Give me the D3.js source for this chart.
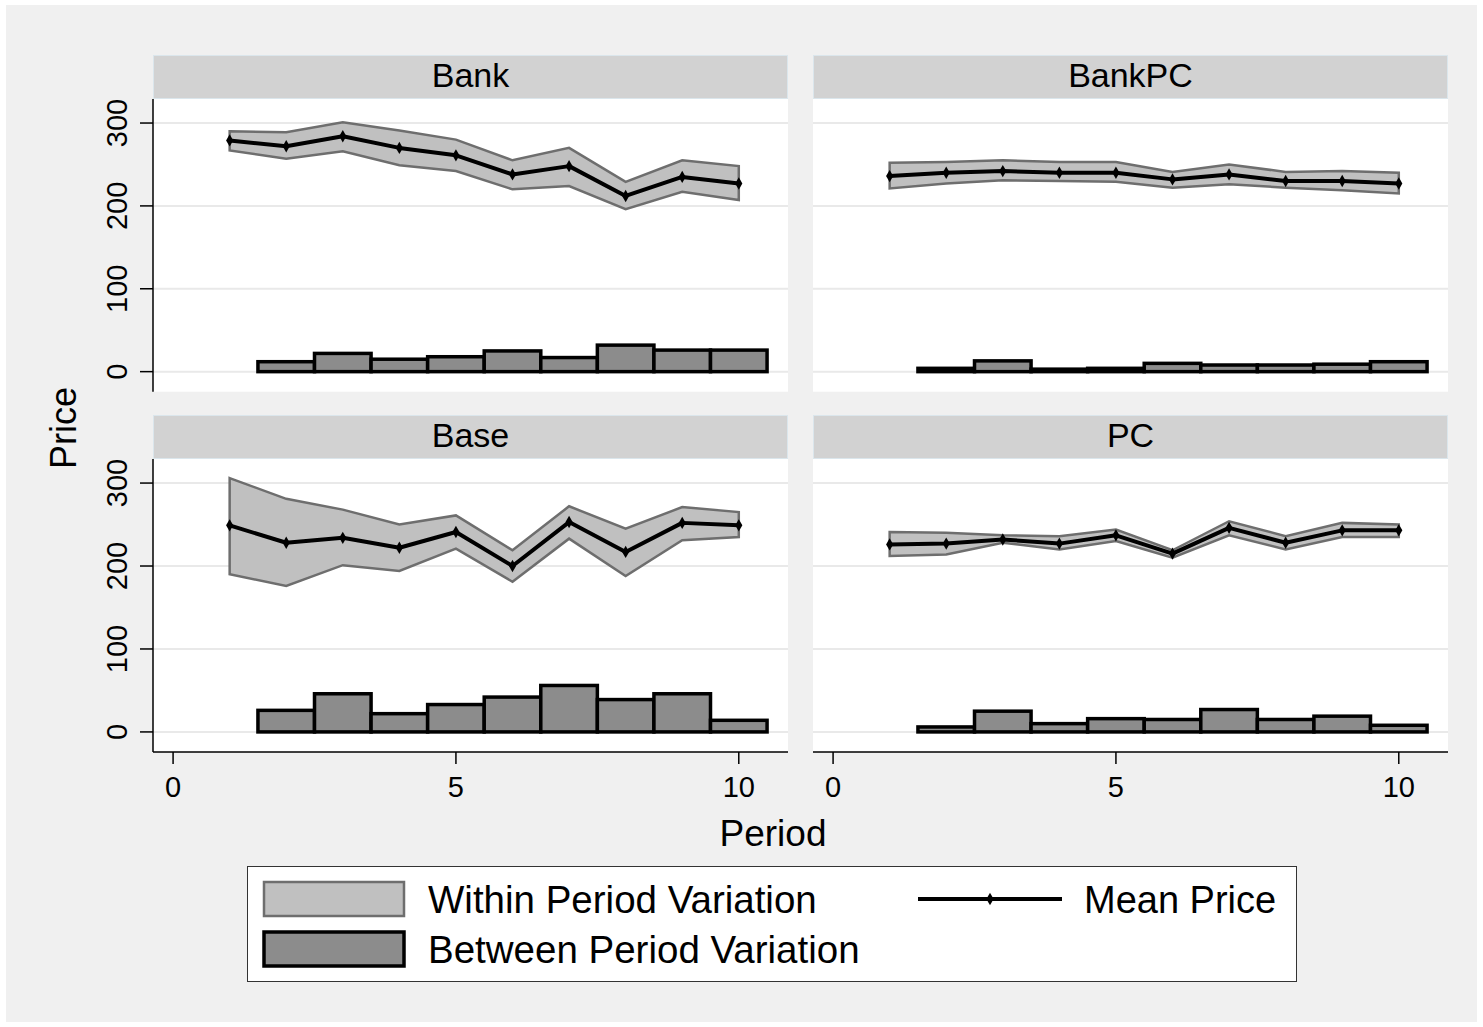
<!DOCTYPE html>
<html>
<head>
<meta charset="utf-8">
<script src="https://cdn.jsdelivr.net/npm/d3@7"></script>
<style>
  html, body { margin: 0; padding: 0; background: #ffffff; }
  svg text { font-family: "Liberation Sans", Arial, Helvetica, sans-serif; fill: #000; }
</style>
</head>
<body>
<svg id="chart" width="1483" height="1027"></svg>
<script>
// Periods and treatment groups
const periods = [1, 2, 3, 4, 5, 6, 7, 8, 9, 10];
const barPeriods = [2, 3, 4, 5, 6, 7, 8, 9, 10];
const groups = ["Bank", "BankPC", "Base", "PC"];

// Mean price per period
const meanBank   = [279, 272, 284, 270, 261, 238, 248, 212, 235, 227];
const meanBankPC = [236, 240, 242, 240, 240, 232, 238, 230, 230, 227];
const meanBase   = [249, 228, 234, 222, 241, 200, 253, 217, 252, 249];
const meanPC     = [226, 227, 232, 227, 237, 215, 246, 228, 243, 243];

// Within-period variation band (upper / lower)
const upperBank   = [290, 289, 301, 291, 280, 255, 270, 229, 255, 248];
const lowerBank   = [267, 257, 266, 249, 242, 220, 224, 196, 217, 207];
const upperBankPC = [252, 253, 255, 253, 253, 241, 250, 241, 242, 240];
const lowerBankPC = [221, 227, 231, 230, 229, 222, 226, 222, 219, 215];
const upperBase   = [306, 281, 268, 250, 261, 219, 272, 245, 271, 265];
const lowerBase   = [190, 176, 201, 194, 221, 181, 233, 188, 231, 235];
const upperPC     = [241, 240, 237, 236, 244, 219, 254, 236, 252, 250];
const lowerPC     = [212, 214, 228, 220, 230, 210, 237, 220, 235, 235];

// Between-period variation (periods 2..10)
const betweenBank   = [12, 22, 15, 18, 25, 17, 32, 26, 26];
const betweenBankPC = [4, 13, 3, 4, 10, 8, 8, 9, 12];
const betweenBase   = [26, 46, 22, 33, 42, 56, 39, 46, 14];
const betweenPC     = [6, 25, 10, 16, 15, 27, 15, 19, 8];

// Axis ticks
const yTicks = [0, 100, 200, 300];
const xTicks = [0, 5, 10];

const panelData = [
  { name: groups[0], mean: meanBank,   upper: upperBank,   lower: lowerBank,   between: betweenBank },
  { name: groups[1], mean: meanBankPC, upper: upperBankPC, lower: lowerBankPC, between: betweenBankPC },
  { name: groups[2], mean: meanBase,   upper: upperBase,   lower: lowerBase,   between: betweenBase },
  { name: groups[3], mean: meanPC,     upper: upperPC,     lower: lowerPC,     between: betweenPC }
];

const svg = d3.select("#chart");

// Outer frame
svg.append("rect").attr("x", 0).attr("y", 0).attr("width", 1483).attr("height", 1027).attr("fill", "#ffffff");
svg.append("rect").attr("x", 6).attr("y", 5).attr("width", 1471).attr("height", 1017).attr("fill", "#f0f0f0");

// Panel geometry
const colX = [153, 813];
const panelW = 635;
const rows = [
  { stripTop: 55,  plotTop: 99,  plotBottom: 391.7 },
  { stripTop: 415, plotTop: 459, plotBottom: 752 }
];

const COL_BAND = "#c0c0c0", COL_BAND_LINE = "#6e6e6e", COL_BAR = "#8c8c8c";
const diamond = d3.symbol().type(d3.symbolDiamond).size(44);

panelData.forEach((p, i) => {
  const col = i % 2, row = Math.floor(i / 2);
  const x0 = colX[col], r = rows[row];
  const g = svg.append("g");

  const x = d3.scaleLinear().domain([-0.355, 10.87]).range([x0, x0 + panelW]);
  const y = d3.scaleLinear().domain([-24.2, 329]).range([r.plotBottom, r.plotTop]);

  // Strip with group name
  g.append("rect")
    .attr("x", x0 + 0.5).attr("y", r.stripTop + 0.5)
    .attr("width", panelW - 1).attr("height", r.plotTop - r.stripTop - 1)
    .attr("fill", "#d2d2d2").attr("stroke", "#dbe6ec").attr("stroke-width", 1);
  g.append("text")
    .attr("x", x0 + panelW / 2).attr("y", (r.stripTop + r.plotTop) / 2 - 2)
    .attr("dy", "0.36em").attr("text-anchor", "middle")
    .style("font-size", "34px").text(p.name);

  // Plot region
  g.append("rect")
    .attr("x", x0).attr("y", r.plotTop)
    .attr("width", panelW).attr("height", r.plotBottom - r.plotTop)
    .attr("fill", "#ffffff");

  // Horizontal gridlines
  g.selectAll(".grid").data(yTicks).enter().append("line")
    .attr("x1", x0).attr("x2", x0 + panelW)
    .attr("y1", d => y(d)).attr("y2", d => y(d))
    .attr("stroke", "#e9e9e9").attr("stroke-width", 2);

  // Within-period band
  const area = d3.area()
    .x((d, k) => x(periods[k]))
    .y0((d, k) => y(p.lower[k]))
    .y1((d, k) => y(p.upper[k]));
  g.append("path").datum(p.mean)
    .attr("d", area)
    .attr("fill", COL_BAND).attr("stroke", COL_BAND_LINE)
    .attr("stroke-width", 2.5).attr("stroke-linejoin", "miter");

  // Between-period bars
  g.selectAll(".bar").data(p.between).enter().append("rect")
    .attr("x", (d, k) => x(barPeriods[k] - 0.5))
    .attr("width", (d, k) => x(barPeriods[k] + 0.5) - x(barPeriods[k] - 0.5))
    .attr("y", d => y(d))
    .attr("height", d => y(0) - y(d))
    .attr("fill", COL_BAR).attr("stroke", "#000").attr("stroke-width", 3.5);

  // Mean price line with markers
  const line = d3.line().x((d, k) => x(periods[k])).y(d => y(d));
  g.append("path").datum(p.mean)
    .attr("d", line).attr("fill", "none")
    .attr("stroke", "#000").attr("stroke-width", 4).attr("stroke-linejoin", "round");
  g.selectAll(".pt").data(p.mean).enter().append("path")
    .attr("d", diamond)
    .attr("transform", (d, k) => `translate(${x(periods[k])},${y(d)})`)
    .attr("fill", "#000");

  // Y axis on the left column
  if (col === 0) {
    g.append("line").attr("x1", x0).attr("x2", x0)
      .attr("y1", r.plotTop).attr("y2", r.plotBottom)
      .attr("stroke", "#000").attr("stroke-width", 1.5);
    g.selectAll(".ytick").data(yTicks).enter().append("line")
      .attr("x1", x0 - 13).attr("x2", x0)
      .attr("y1", d => y(d)).attr("y2", d => y(d))
      .attr("stroke", "#000").attr("stroke-width", 1.5);
    g.selectAll(".ylab").data(yTicks).enter().append("text")
      .attr("transform", d => `translate(127,${y(d)}) rotate(-90)`)
      .attr("text-anchor", "middle")
      .style("font-size", "29px").text(d => d);
  }

  // X axis on the bottom row
  if (row === 1) {
    g.append("line").attr("x1", x0).attr("x2", x0 + panelW)
      .attr("y1", r.plotBottom).attr("y2", r.plotBottom)
      .attr("stroke", "#000").attr("stroke-width", 1.5);
    g.selectAll(".xtick").data(xTicks).enter().append("line")
      .attr("x1", d => x(d)).attr("x2", d => x(d))
      .attr("y1", r.plotBottom).attr("y2", r.plotBottom + 12)
      .attr("stroke", "#000").attr("stroke-width", 1.5);
    g.selectAll(".xlab").data(xTicks).enter().append("text")
      .attr("x", d => x(d)).attr("y", 797)
      .attr("text-anchor", "middle")
      .style("font-size", "29px").text(d => d);
  }
});

// Axis titles
svg.append("text")
  .attr("transform", "translate(76,428) rotate(-90)")
  .attr("text-anchor", "middle").style("font-size", "36px").text("Price");
svg.append("text")
  .attr("x", 773).attr("y", 846)
  .attr("text-anchor", "middle").style("font-size", "37px").text("Period");

// Legend
const lg = svg.append("g");
lg.append("rect").attr("x", 247.5).attr("y", 866.5).attr("width", 1049).attr("height", 115)
  .attr("fill", "#ffffff").attr("stroke", "#333").attr("stroke-width", 1);
lg.append("rect").attr("x", 264).attr("y", 882).attr("width", 140).attr("height", 34)
  .attr("fill", COL_BAND).attr("stroke", COL_BAND_LINE).attr("stroke-width", 2.5);
lg.append("rect").attr("x", 264).attr("y", 932).attr("width", 140).attr("height", 34)
  .attr("fill", COL_BAR).attr("stroke", "#000").attr("stroke-width", 3.5);
lg.append("text").attr("x", 428).attr("y", 913).style("font-size", "38.5px").text("Within Period Variation");
lg.append("text").attr("x", 428).attr("y", 963).style("font-size", "38.5px").text("Between Period Variation");
lg.append("line").attr("x1", 918).attr("x2", 1062).attr("y1", 899).attr("y2", 899)
  .attr("stroke", "#000").attr("stroke-width", 4);
lg.append("path").attr("d", diamond)
  .attr("transform", "translate(990,899)").attr("fill", "#000");
lg.append("text").attr("x", 1084).attr("y", 913).style("font-size", "38px").text("Mean Price");
</script>
</body>
</html>
